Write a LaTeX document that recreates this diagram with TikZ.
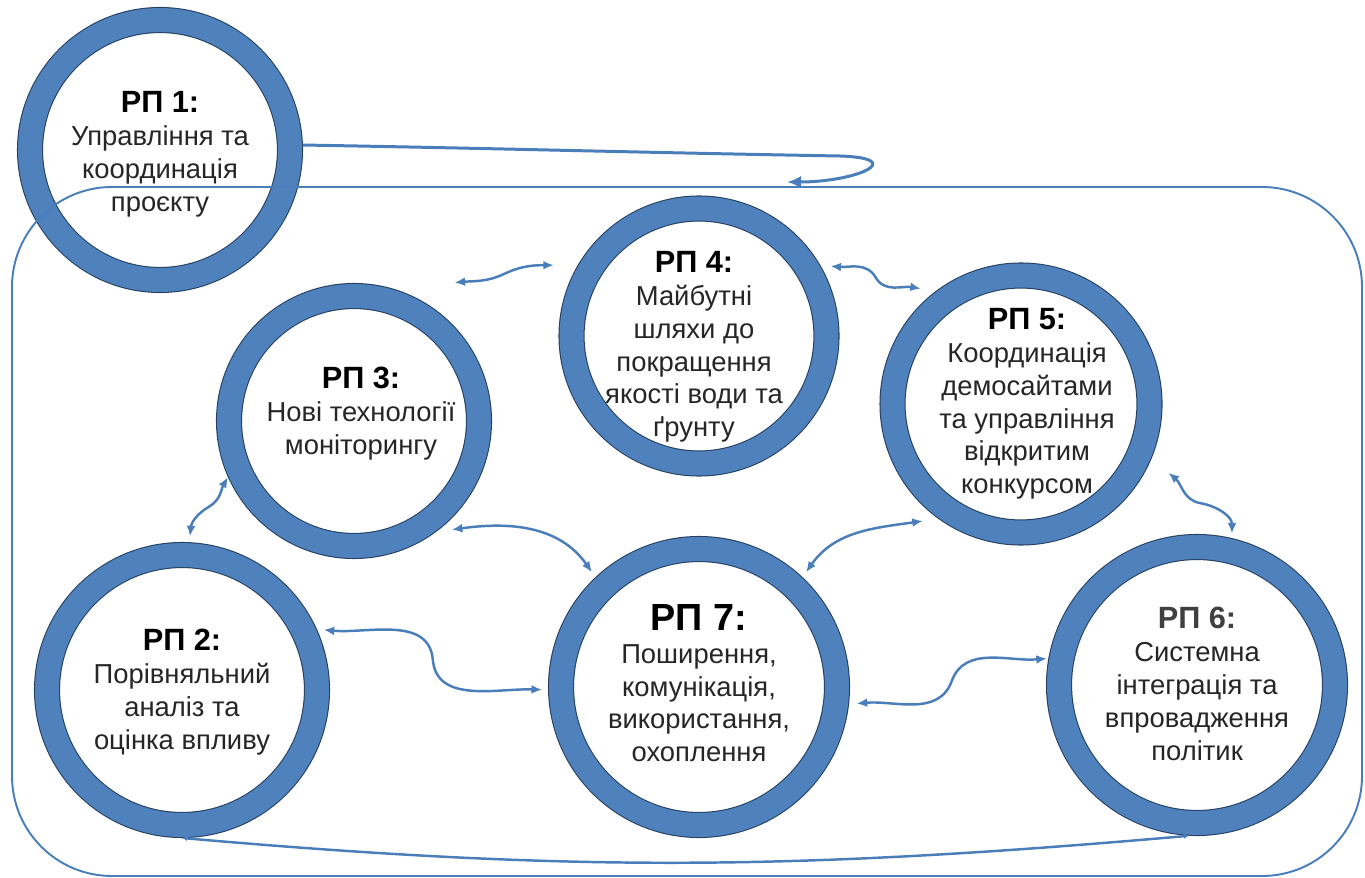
\documentclass[tikz,border=0pt]{standalone}
\usepackage{fontspec}
\setmainfont{Liberation Sans}
\usetikzlibrary{calc,arrows.meta}
\definecolor{ringblue}{HTML}{4F81BD}
\definecolor{ringedge}{HTML}{243F60}
\definecolor{linkblue}{HTML}{4A7EBB}
\definecolor{textgray}{HTML}{262626}
\definecolor{titlegray}{HTML}{404040}
\newcommand{\wptitle}[2][17.5]{{\fontsize{#1}{18.7}\selectfont\bfseries\color{black}#2}}

\begin{document}
\begin{tikzpicture}[x=0.02cm, y=-0.02cm,
	ring/.style={circle, draw=ringedge, line width=0.6pt, double=ringblue, double distance=0.48cm, fill=white, inner sep=0pt, outer sep=0.26cm},
	wptext/.style={align=center, inner sep=0pt, anchor=north, text=textgray, font=\fontsize{15.6}{18.7}\selectfont},
	link/.style={linkblue, line width=1.4pt, {Latex[length=6pt,width=5pt]}-{Latex[length=6pt,width=5pt]}},
	feed/.style={linkblue, line width=1.7pt, -{Latex[length=8pt,width=7pt]}},
	frame/.style={linkblue, line width=1.1pt, rounded corners=2cm}]
	\useasboundingbox (0,0) rectangle (1365,878);
	% project management ring, outside the frame
	\node[ring, minimum size=5.2cm] (rp1) at (160,150) {};
	\draw[frame] (12,187) rectangle (1362,876);
	% work package rings
	\node[ring, minimum size=5.0cm]  (rp3) at (354,421) {};
	\node[ring, minimum size=5.1cm]  (rp4) at (699,336) {};
	\node[ring, minimum size=5.14cm] (rp5) at (1021,404) {};
	\node[ring, minimum size=5.4cm]  (rp2) at (182,690) {};
	\node[ring, minimum size=5.52cm] (rp7) at (699,687) {};
	\node[ring, minimum size=5.52cm] (rp6) at (1197,685) {};
	% labels
	\node[wptext] (t1) at (160,91)  {\wptitle{РП 1:}\\Управління та\\координація\\проєкту};
	\node[wptext] (t3) at (361,367) {\wptitle{РП 3:}\\Нові технології\\моніторингу};
	\node[wptext] (t4) at (694,251) {\wptitle{РП 4:}\\Майбутні\\шляхи до\\покращення\\якості води та\\ґрунту};
	\node[wptext] (t5) at (1027,308) {\wptitle{РП 5:}\\Координація\\демосайтами\\та управління\\відкритим\\конкурсом};
	\node[wptext] (t2) at (182,629) {\wptitle{РП 2:}\\Порівняльний\\аналіз та\\оцінка впливу};
	\node[wptext] (t7) at (699,604) {\wptitle[21.5]{РП 7:}\\Поширення,\\комунікація,\\використання,\\охоплення};
	\node[wptext] (t6) at (1197,607) {\wptitle{\color{titlegray}РП 6:}\\Системна\\інтеграція та\\впровадження\\політик};
	% arrow ends
	\coordinate (a34) at ($(rp3.center)!1.24!(rp3.54)$);
	\coordinate (b34) at ($(rp4.center)!1.15!(rp4.154)$);
	\coordinate (a45) at ($(rp4.center)!1.06!(rp4.28)$);
	\coordinate (b45) at ($(rp5.center)!1.08!(rp5.131)$);
	\coordinate (a32) at (rp3.204);
	\coordinate (b32) at ($(rp2.center)!1.04!(rp2.87)$);
	\coordinate (a37) at ($(rp3.center)!1.06!(rp3.312)$);
	\coordinate (b37) at ($(rp7.center)!1.04!(rp7.133)$);
	\coordinate (a27) at ($(rp2.center)!1.04!(rp2.23)$);
	\coordinate (b27) at ($(rp7.center)!1.04!(rp7.181)$);
	\coordinate (a75) at ($(rp7.center)!1.04!(rp7.47)$);
	\coordinate (b75) at ($(rp5.center)!1.08!(rp5.230)$);
	\coordinate (a76) at ($(rp7.center)!1.05!(rp7.354)$);
	\coordinate (b76) at ($(rp6.center)!1.01!(rp6.170)$);
	\coordinate (a56) at ($(rp5.center)!1.15!(rp5.335)$);
	\coordinate (b56) at ($(rp6.center)!1.03!(rp6.77)$);
	% links
	\draw[link] (a34) to[out=5,in=205] ($(a34)!.5!(b34)$) to[out=25,in=180] (b34);
	\draw[link] (a45) to[out=-5,in=120] ($(a45)!.5!(b45)$) to[out=-60,in=170] (b45);
	\draw[link] (a32) to[out=240,in=30] ($(a32)!.5!(b32)$) to[out=210,in=85] (b32);
	\draw[link] (a37) to[out=8,in=125] (b37);
	\draw[link] (a27) to[out=-5,in=95] ($(a27)!.5!(b27)$) to[out=-85,in=178] (b27);
	\draw[link] (a75) to[out=55,in=188] (b75);
	\draw[link] (a76) to[out=5,in=-110] ($(a76)!.5!(b76)$) to[out=70,in=185] (b76);
	\draw[link] (a56) to[out=-40,in=170] ($(a56)!.5!(b56)$) to[out=-10,in=90] (b56);
	\draw[linkblue, line width=1.4pt, {Latex[length=3pt,width=3pt]}-{Latex[length=3pt,width=3pt]}]
		(rp2.south) to[out=-5,in=185] (rp6.267);
	% from rp1 into the frame
	\coordinate (hook) at (840,156);
	\coordinate (boxin) at (787,182);
	\draw[feed] (rp1.2) to[out=-1,in=179] (hook) to[out=-2,in=0,looseness=3] (boxin);
\end{tikzpicture}
\end{document}
